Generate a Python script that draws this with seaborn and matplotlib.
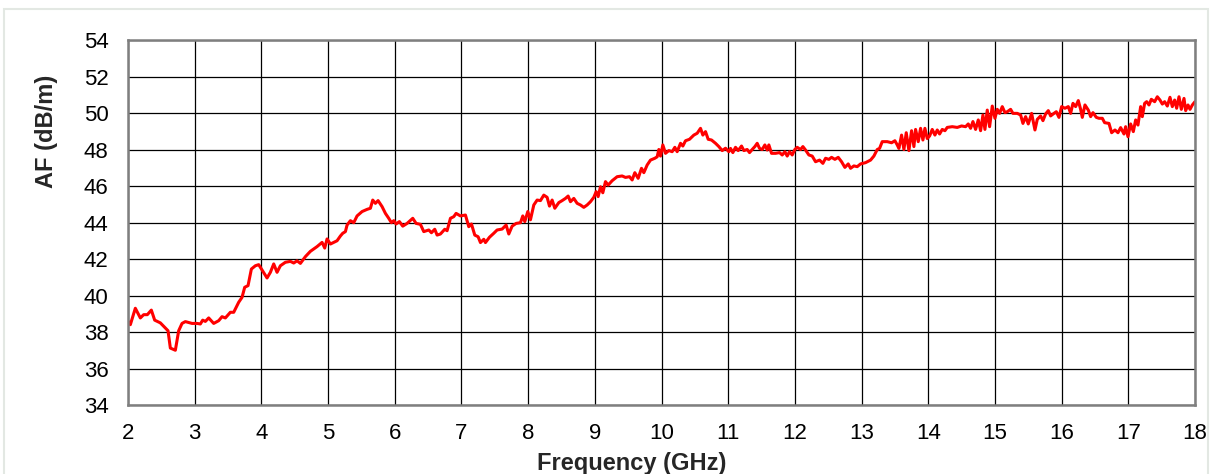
import matplotlib
matplotlib.use("Agg")
import matplotlib.pyplot as plt
import matplotlib.patches as patches
import seaborn as sns

# Antenna factor curve
freq_ghz = [
    2.0, 2.035, 2.11, 2.185, 2.235, 2.29, 2.35, 2.4, 2.485, 2.55, 2.6, 2.635, 2.71, 2.76, 2.81, 2.86, 2.96,
    3.035, 3.085, 3.12, 3.16, 3.21, 3.285, 3.36, 3.41, 3.46, 3.535, 3.585, 3.66, 3.71, 3.75, 3.8, 3.85, 3.91, 3.96,
    4.01, 4.085, 4.135, 4.185, 4.235, 4.285, 4.36, 4.435, 4.485, 4.535, 4.585, 4.66, 4.735, 4.835, 4.91, 4.95, 4.985,
    5.035, 5.08, 5.135, 5.185, 5.22, 5.26, 5.285, 5.335, 5.385, 5.435, 5.51, 5.585, 5.635, 5.67, 5.71, 5.75, 5.81,
    5.86, 5.91, 5.95, 5.985, 6.02, 6.07, 6.12, 6.185, 6.27, 6.32, 6.385, 6.435, 6.51, 6.55, 6.6, 6.635, 6.685, 6.75,
    6.785, 6.835, 6.885, 6.92, 6.985, 7.06, 7.11, 7.15, 7.2, 7.25, 7.285, 7.335, 7.36, 7.42, 7.485, 7.535, 7.61,
    7.67, 7.71, 7.76, 7.82, 7.885, 7.92, 7.95, 7.995, 8.035, 8.085, 8.135, 8.185, 8.235, 8.285, 8.32, 8.36, 8.4,
    8.46, 8.51, 8.56, 8.6, 8.635, 8.685, 8.735, 8.785, 8.835, 8.885, 8.935, 8.985, 9.02, 9.05, 9.085, 9.12, 9.16,
    9.2, 9.26, 9.335, 9.41, 9.46, 9.52, 9.56, 9.6, 9.65, 9.7, 9.735, 9.785, 9.835, 9.9, 9.935, 9.96, 9.985, 10.02,
    10.06, 10.11, 10.16, 10.2, 10.235, 10.285, 10.32, 10.36, 10.42, 10.485, 10.535, 10.585, 10.62, 10.66, 10.7,
    10.75, 10.81, 10.86, 10.91, 10.96, 11.01, 11.035, 11.07, 11.11, 11.15, 11.2, 11.235, 11.285, 11.32, 11.36,
    11.4, 11.435, 11.47, 11.51, 11.55, 11.585, 11.61, 11.65, 11.71, 11.77, 11.81, 11.85, 11.885, 11.92, 11.96,
    12.0, 12.035, 12.085, 12.12, 12.16, 12.21, 12.26, 12.31, 12.37, 12.42, 12.46, 12.51, 12.55, 12.6, 12.65, 12.7,
    12.75, 12.8, 12.835, 12.885, 12.935, 12.985, 13.06, 13.135, 13.185, 13.235, 13.27, 13.31, 13.385, 13.45, 13.5,
    13.535, 13.56, 13.6, 13.635, 13.67, 13.71, 13.75, 13.785, 13.81, 13.85, 13.885, 13.92, 13.95, 13.985, 14.02,
    14.06, 14.1, 14.135, 14.17, 14.21, 14.25, 14.285, 14.36, 14.435, 14.5, 14.56, 14.6, 14.635, 14.67, 14.71,
    14.75, 14.785, 14.82, 14.85, 14.885, 14.92, 14.96, 15.0, 15.035, 15.07, 15.11, 15.15, 15.185, 15.235, 15.27,
    15.335, 15.385, 15.42, 15.46, 15.5, 15.55, 15.6, 15.635, 15.685, 15.72, 15.76, 15.8, 15.835, 15.885, 15.92,
    15.96, 16.0, 16.05, 16.1, 16.135, 16.17, 16.21, 16.25, 16.285, 16.31, 16.35, 16.4, 16.435, 16.47, 16.52, 16.56,
    16.61, 16.645, 16.71, 16.75, 16.8, 16.845, 16.885, 16.935, 16.96, 16.995, 17.035, 17.075, 17.11, 17.145,
    17.185, 17.21, 17.245, 17.275, 17.31, 17.345, 17.395, 17.435, 17.475, 17.51, 17.545, 17.585, 17.625, 17.66,
    17.695, 17.725, 17.76, 17.795, 17.835, 17.86, 17.895, 17.925, 17.96, 18.0,
]
af_db = [
    38.6, 38.4, 39.3, 38.77, 38.95, 38.95, 39.2, 38.65, 38.5, 38.26, 38.07, 37.12, 37.0, 38.07, 38.47, 38.57, 38.47,
    38.47, 38.44, 38.65, 38.58, 38.77, 38.47, 38.62, 38.84, 38.77, 39.08, 39.08, 39.63, 39.9, 40.45, 40.54, 41.45, 41.63, 41.69,
    41.4, 40.96, 41.27, 41.73, 41.27, 41.63, 41.82, 41.87, 41.78, 41.9, 41.76, 42.13, 42.42, 42.68, 42.91, 42.6, 43.1,
    42.82, 42.9, 43.0, 43.26, 43.41, 43.5, 43.86, 44.1, 43.99, 44.36, 44.6, 44.72, 44.78, 45.23, 45.05, 45.2, 44.87,
    44.5, 44.23, 43.99, 44.1, 43.92, 44.05, 43.8, 43.95, 44.23, 43.95, 43.9, 43.5, 43.59, 43.44, 43.63, 43.31, 43.37, 43.63,
    43.55, 44.23, 44.32, 44.5, 44.36, 44.41, 43.77, 43.92, 43.31, 43.22, 42.9, 43.08, 42.9, 43.19, 43.41, 43.59, 43.64,
    43.86, 43.37, 43.8, 43.95, 43.99, 44.36, 44.05, 44.6, 44.15, 44.96, 45.23, 45.2, 45.5, 45.38, 44.9, 45.23, 44.78,
    45.09, 45.2, 45.32, 45.45, 45.14, 45.32, 45.05, 44.96, 44.83, 44.96, 45.14, 45.38, 45.69, 45.42, 45.96, 45.63, 46.24,
    46.05, 46.29, 46.51, 46.55, 46.47, 46.51, 46.33, 46.73, 46.42, 46.97, 46.73, 47.15, 47.42, 47.52, 47.6, 48.0, 47.64, 48.25,
    47.79, 47.94, 47.88, 48.12, 47.88, 48.34, 48.19, 48.48, 48.56, 48.79, 48.89, 49.16, 48.79, 48.98, 48.56,
    48.52, 48.34, 48.16, 47.94, 48.07, 47.88, 48.06, 47.83, 48.12, 47.94, 48.19, 47.94, 48.0, 47.83, 48.0,
    48.16, 48.34, 48.06, 48.0, 48.25, 47.97, 48.25, 47.79, 47.79, 47.83, 47.7, 47.88, 47.64, 47.88, 47.7,
    48.0, 48.12, 48.0, 48.16, 47.97, 47.7, 47.64, 47.33, 47.42, 47.24, 47.52, 47.46, 47.57, 47.46, 47.57, 47.33,
    47.02, 47.21, 46.97, 47.1, 47.06, 47.21, 47.28, 47.42, 47.64, 48.0, 48.06, 48.43, 48.43, 48.37, 48.48,
    48.25, 48.06, 48.79, 48.0, 48.92, 47.94, 49.03, 48.16, 49.1, 48.43, 49.16, 48.52, 49.16, 48.6, 48.74,
    49.1, 48.79, 49.07, 48.85, 49.1, 49.03, 49.21, 49.25, 49.21, 49.29, 49.25, 49.4, 49.16, 49.53, 49.1,
    49.62, 49.03, 49.89, 49.1, 50.16, 49.25, 50.38, 49.71, 50.2, 49.98, 50.35, 50.02, 50.07, 50.2, 49.98,
    49.98, 49.89, 49.43, 49.8, 49.4, 49.98, 49.07, 49.65, 49.84, 49.58, 49.95, 50.13, 49.84, 49.98, 50.07,
    49.76, 50.35, 50.26, 50.35, 49.98, 50.53, 50.35, 50.68, 50.2, 49.76, 50.44, 50.16, 49.8, 50.02, 49.76, 49.71,
    49.71, 49.47, 49.43, 48.92, 49.07, 48.92, 49.2, 48.85, 49.25, 48.7, 49.4, 48.98, 49.62, 49.34,
    50.35, 49.8, 50.53, 50.62, 50.44, 50.75, 50.62, 50.89, 50.71, 50.49, 50.62, 50.38, 50.86, 50.35,
    50.71, 50.26, 50.89, 50.2, 50.8, 50.13, 50.44, 50.2, 50.44, 50.62,
]
x_ticks = list(range(2, 19))
y_ticks = list(range(34, 55, 2))

sns.set_style("white")
plt.rcParams['font.family'] = ['Liberation Sans', 'DejaVu Sans']

fig = plt.figure(figsize=(12.14, 4.74), dpi=100)
ax = fig.add_axes([128 / 1214, 1 - 405 / 474, 1067 / 1214, 365 / 474])

# faint outer frame like the original chart area
fig.patches.append(patches.Rectangle((4 / 1214, -0.1), 1204 / 1214, 1.1 - 9 / 474,
                                     transform=fig.transFigure, fill=False,
                                     edgecolor='#e3e8e3', linewidth=1.5))

sns.lineplot(x=freq_ghz, y=af_db, color='#ff0000', linewidth=2.2, ax=ax)

ax.set_xlim(2, 18)
ax.set_ylim(34, 54)
ax.set_xticks(x_ticks)
ax.set_yticks(y_ticks)
ax.grid(True, color='black', linewidth=0.9)
ax.set_axisbelow(True)
for side in ['left', 'right', 'top', 'bottom']:
    ax.spines[side].set_visible(True)
    ax.spines[side].set_color('#7f7f7f')
    ax.spines[side].set_linewidth(1.8)

ax.tick_params(axis='both', direction='out', length=6, width=1, color='black',
               labelsize=16, labelcolor='black')
ax.tick_params(axis='x', pad=7)
ax.tick_params(axis='y', pad=8)

ax.set_xlabel('Frequency (GHz)', fontsize=17, fontweight='bold')
ax.set_ylabel('AF (dB/m)', fontsize=17, fontweight='bold')
# labels sit off-centre in the original
ax.xaxis.set_label_coords(0.472, -0.13)
ax.yaxis.set_label_coords(-0.066, 0.75)

fig.savefig('out.png', dpi=100)
